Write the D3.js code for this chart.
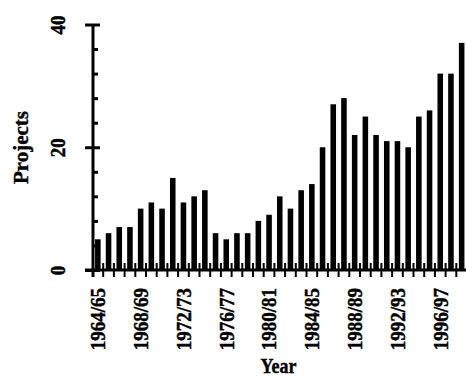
<!DOCTYPE html>
<html>
<head>
<meta charset="utf-8">
<script src="https://cdn.jsdelivr.net/npm/d3@7"></script>
<style>
  body { margin: 0; background: #fff; }
  svg { display: block; font-family: "Liberation Serif", "Times New Roman", serif; }
  svg text { stroke: #000; stroke-width: 0.4px; }
</style>
</head>
<body>
<svg id="chart" width="466" height="378"></svg>
<script>
const years = [
  "1964/65","1965/66","1966/67","1967/68","1968/69","1969/70","1970/71","1971/72",
  "1972/73","1973/74","1974/75","1975/76","1976/77","1977/78","1978/79","1979/80",
  "1980/81","1981/82","1982/83","1983/84","1984/85","1985/86","1986/87","1987/88",
  "1988/89","1989/90","1990/91","1991/92","1992/93","1993/94","1994/95","1995/96",
  "1996/97","1997/98","1998/99"
];
const projects = [
  5, 6, 7, 7, 10, 11, 10, 15, 11, 12, 13, 6, 5, 6, 6, 8, 9, 12,
  10, 13, 14, 20, 27, 28, 22, 25, 22, 21, 21, 20, 25, 26, 32, 32, 37
];
const yMajorTicks = [0, 20, 40];
const yMinorTicks = [4, 8, 12, 16, 24, 28, 32, 36];
const labelYears = years.filter((d, i) => i % 4 === 0);

const svg = d3.select("#chart");
const originX = 93, originY = 270;
const font = "Liberation Serif, Times New Roman, serif";

const x = d3.scaleBand()
    .domain(years)
    .range([92.5, 467])
    .paddingInner(0.48)
    .paddingOuter(0.24);

const y = d3.scaleLinear()
    .domain([0, 40])
    .range([originY, 24.5]);

// bars
svg.append("g")
    .selectAll("rect")
    .data(years)
    .join("rect")
    .attr("x", d => x(d))
    .attr("width", x.bandwidth())
    .attr("y", (d, i) => y(projects[i]))
    .attr("height", (d, i) => y(0) - y(projects[i]))
    .attr("fill", "#000");

// x axis: labels at every 4th bar
const xAxis = svg.append("g")
    .attr("transform", `translate(0,${originY})`)
    .call(d3.axisBottom(x).tickValues(labelYears).tickSize(0).tickPadding(0));
xAxis.select(".domain").remove();
xAxis.selectAll("text")
    .attr("transform", "rotate(-90) scale(1,1.15)")
    .attr("x", -18)
    .attr("y", 0)
    .attr("dy", "0.34em")
    .attr("text-anchor", "end")
    .style("font-size", "19px")
    .style("font-weight", "bold")
    .style("font-family", font);

// x ticks at band boundaries
const gap = (x.step() - x.bandwidth()) / 2;
svg.append("g")
    .selectAll("line")
    .data(years.slice(1))
    .join("line")
    .attr("x1", d => x(d) - gap)
    .attr("x2", d => x(d) - gap)
    .attr("y1", originY - 7)
    .attr("y2", originY + 7)
    .attr("stroke", "#000")
    .attr("stroke-width", 2);

// x axis line
svg.append("line")
    .attr("x1", 85).attr("x2", 466)
    .attr("y1", originY).attr("y2", originY)
    .attr("stroke", "#000").attr("stroke-width", 3);

// y minor ticks
const yMinor = svg.append("g")
    .attr("transform", `translate(${originX},0)`)
    .call(d3.axisRight(y).tickValues(yMinorTicks).tickSize(5).tickFormat(""));
yMinor.select(".domain").remove();
yMinor.selectAll("line").attr("stroke-width", 3);

// y major ticks + labels
const yAxis = svg.append("g")
    .attr("transform", `translate(${originX},0)`)
    .call(d3.axisLeft(y).tickValues(yMajorTicks).tickSize(8).tickFormat(d3.format("d")));
yAxis.select(".domain").remove();
yAxis.selectAll("line").attr("x2", -8).attr("x1", 7).attr("stroke-width", 3);
yAxis.selectAll("text")
    .attr("transform", `translate(${65 - originX},0) rotate(-90) scale(1,1.15)`)
    .attr("x", 0)
    .attr("dy", 0)
    .attr("text-anchor", "middle")
    .style("font-size", "19px")
    .style("font-weight", "bold")
    .style("font-family", font);

// y axis line
svg.append("line")
    .attr("x1", originX).attr("x2", originX)
    .attr("y1", y(40)).attr("y2", originY + 7)
    .attr("stroke", "#000").attr("stroke-width", 3);

// axis titles
svg.append("text")
    .attr("transform", `translate(28,147.5) rotate(-90)`)
    .attr("text-anchor", "middle")
    .style("font-size", "21px")
    .style("font-weight", "bold")
    .text("Projects");

svg.append("text")
    .attr("transform", "translate(278.5,373) scale(0.82,1)")
    .attr("text-anchor", "middle")
    .style("font-size", "22px")
    .style("font-weight", "bold")
    .text("Year");
</script>
</body>
</html>
